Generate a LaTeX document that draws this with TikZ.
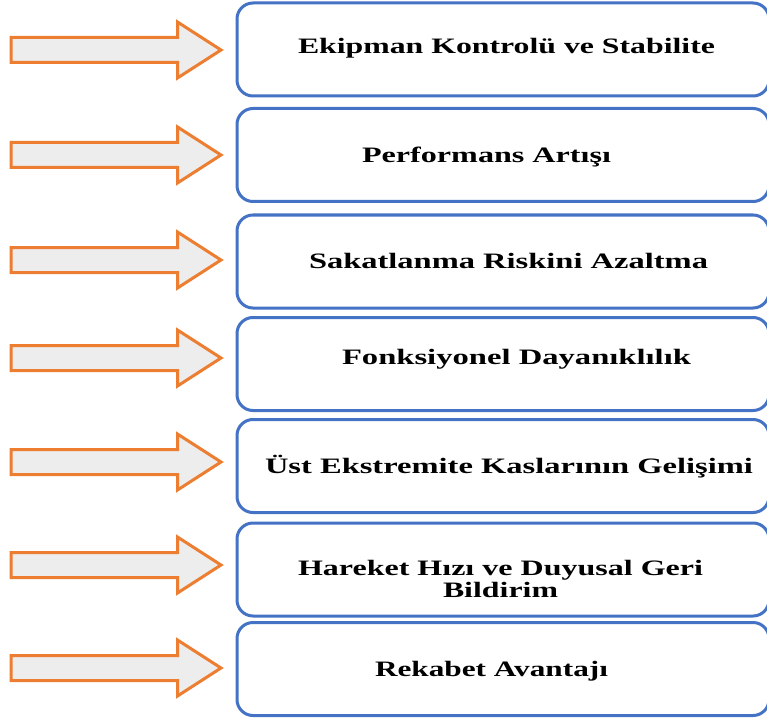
\documentclass[tikz,border=0pt]{standalone}
\usepackage{fontspec}
\setmainfont{Liberation Serif}
\usepackage{graphicx}
\definecolor{arrowline}{HTML}{ED7D31}
\definecolor{arrowfill}{HTML}{EDEDED}
\definecolor{boxline}{HTML}{4472C4}
\begin{document}
\begin{tikzpicture}[x=1pt,y=-1pt,
  box/.style={draw=boxline,line width=3pt,rounded corners=16pt,fill=white,
    minimum width=532pt,minimum height=93pt,inner sep=0pt,outer sep=0pt},
  lbl/.style={anchor=base west,inner sep=0pt,outer sep=0pt,
    font=\fontsize{22}{24}\selectfont\bfseries},
  blockarrow/.style={draw=arrowline,fill=arrowfill,line width=3pt,line join=miter}]
\useasboundingbox (0,0) rectangle (767,719);
% arrows
\foreach \yy in {50,155,260,358,462,565,668}{
  \draw[blockarrow] (11,\yy-12.5) -- (177.5,\yy-12.5) -- (177.5,\yy-28)
    -- (221,\yy) -- (177.5,\yy+28) -- (177.5,\yy+12.5) -- (11,\yy+12.5) -- cycle;
}
% boxes
\node[box] (b1) at (503,49.5) {};
\node[box] (b2) at (503,155) {};
\node[box] (b3) at (503,261.5) {};
\node[box] (b4) at (503,364) {};
\node[box] (b5) at (503,466) {};
\node[box] (b6) at (503,569.5) {};
\node[box] (b7) at (503,669) {};
% labels
\node[lbl] (t1) at (298,54) {\resizebox{417pt}{\height}{Ekipman Kontrolü ve Stabilite}};
\node[lbl] (t2) at (362,163) {\resizebox{249pt}{\height}{Performans Artışı}};
\node[lbl] (t3) at (309,268) {\resizebox{399pt}{\height}{Sakatlanma Riskini Azaltma}};
\node[lbl] (t4) at (342,364) {\resizebox{349pt}{\height}{Fonksiyonel Dayanıklılık}};
\node[lbl] (t5) at (265,473) {\resizebox{488pt}{\height}{Üst Ekstremite Kaslarının Gelişimi}};
\node[lbl] (t6a) at (298,575) {\resizebox{405pt}{\height}{Hareket Hızı ve Duyusal Geri}};
\node[lbl] (t6b) at (443,597) {\resizebox{115pt}{\height}{Bildirim}};
\node[lbl] (t7) at (375,676) {\resizebox{233pt}{\height}{Rekabet Avantajı}};
\end{tikzpicture}
\end{document}
